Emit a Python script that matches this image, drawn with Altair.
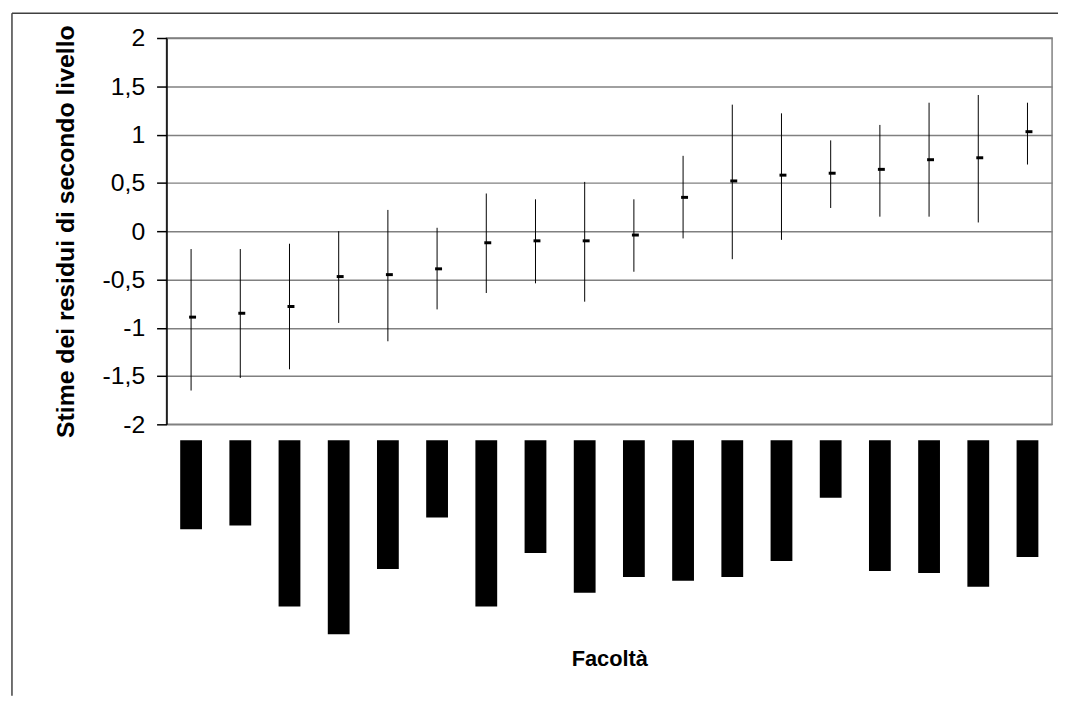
import altair as alt
import pandas as pd

# 18 faculties (names not legible in the source), ordered by estimate
categories = [str(i) for i in range(1, 19)]
estimates = [-0.89, -0.85, -0.78, -0.47, -0.45, -0.39, -0.12, -0.10, -0.10,
             -0.04, 0.35, 0.52, 0.58, 0.60, 0.64, 0.74, 0.76, 1.03]
lower = [-1.65, -1.52, -1.43, -0.95, -1.14, -0.81, -0.64, -0.54, -0.73,
         -0.42, -0.075, -0.29, -0.09, 0.24, 0.15, 0.15, 0.09, 0.69]
upper = [-0.185, -0.185, -0.13, 0.0, 0.22, 0.035, 0.39, 0.33, 0.51,
         0.33, 0.78, 1.31, 1.22, 0.94, 1.10, 1.33, 1.41, 1.33]
# lengths of the (illegible, blacked-out) rotated category labels
label_len = [90, 86, 168, 196, 130, 78, 168, 114, 154, 138, 142, 138, 122,
             58, 132, 134, 148, 118]
y_ticks = [-2, -1.5, -1, -0.5, 0, 0.5, 1, 1.5, 2]

df = pd.DataFrame({"cat": categories, "est": estimates, "lo": lower,
                   "hi": upper, "len": label_len})

W, H = 894, 390
FONT = "Liberation Sans"

xband = alt.X("cat:N", sort=categories, axis=None,
              scale=alt.Scale(paddingInner=0, paddingOuter=0))

base = alt.Chart(df)

bars_ci = base.mark_rule(color="black", strokeWidth=1).encode(
    x=xband,
    y=alt.Y("lo:Q", scale=alt.Scale(domain=[-2, 2], nice=False, zero=False),
            axis=alt.Axis(values=y_ticks,
                          labelExpr="replace(datum.value + '', '.', ',')",
                          title="Stime dei residui di secondo livello",
                          titleFont=FONT, titleFontSize=25, titleFontWeight="bold",
                          titleColor="black", titlePadding=24,
                          labelFont=FONT, labelFontSize=25, labelColor="black",
                          labelPadding=12, tickSize=10, tickColor="black",
                          tickWidth=1.5, domainColor="black", domainWidth=1.5,
                          gridColor="#808080", gridWidth=1.5)),
    y2="hi:Q",
)

points = base.mark_tick(color="black", orient="horizontal", size=7,
                        thickness=3, xOffset=1.5, opacity=1).encode(
    x=xband,
    y=alt.Y("est:Q"),
)

frame_left = alt.Chart(df.head(1)).mark_rule(color="#404040", strokeWidth=1.5).encode(
    x=alt.value(-156), y=alt.value(-25), y2=alt.value(664))
frame_top = alt.Chart(df.head(1)).mark_rule(color="#404040", strokeWidth=1.5).encode(
    x=alt.value(-156), x2=alt.value(900), y=alt.value(-25))

top = alt.layer(bars_ci, points, frame_left, frame_top).properties(
    width=W, height=H,
    view=alt.ViewBackground(stroke="#808080", strokeWidth=1.5))

bottom = alt.Chart(df).mark_bar(color="black").encode(
    x=alt.X("cat:N", sort=categories,
            scale=alt.Scale(paddingInner=0.557, paddingOuter=0.2785),
            axis=alt.Axis(labels=False, ticks=False, domain=False,
                          title="Facoltà", titleFont=FONT, titleFontSize=22,
                          titleFontWeight="bold", titleColor="black",
                          titlePadding=10)),
    y=alt.Y("len:Q", scale=alt.Scale(domain=[0, 200], reverse=True, nice=False),
            axis=None),
).properties(width=W, height=200,
             view=alt.ViewBackground(stroke="transparent"))

chart = alt.vconcat(top, bottom, spacing=16, bounds="flush").properties(
    padding={"left": 2, "top": 0, "right": 0, "bottom": 0},
    background="white",
)

chart.save("out.html", embed_options={"renderer": "svg", "actions": False})
